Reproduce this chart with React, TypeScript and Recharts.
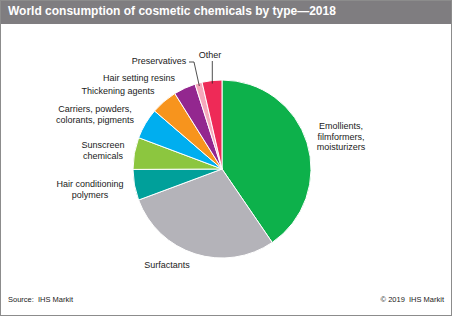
import { PieChart, Pie, Cell } from 'recharts';

// share of world consumption, %, clockwise from 12 o'clock
const categories = [
    'Emollients, filmformers, moisturizers',
    'Surfactants',
    'Hair conditioning polymers',
    'Sunscreen chemicals',
    'Carriers, powders, colorants, pigments',
    'Thickening agents',
    'Hair setting resins',
    'Preservatives',
    'Other',
];
const shares = [40.5, 28.9, 5.6, 5.8, 5.6, 4.8, 4.0, 1.3, 3.6];
const colors = ['#0db14b', '#b4b3b9', '#00a09a', '#8cc63f', '#00aeef', '#f7941d', '#93278f', '#f6a8bb', '#ee2a57'];

// how each label is broken into lines
const labelLines = [
    ['Emollients,', 'filmformers,', 'moisturizers'],
    ['Surfactants'],
    ['Hair conditioning', 'polymers'],
    ['Sunscreen', 'chemicals'],
    ['Carriers, powders,', 'colorants, pigments'],
    ['Thickening agents'],
    ['Hair setting resins'],
    ['Preservatives'],
    ['Other'],
];

// label placement (centre of text block, first line baseline) -- layout only
const labelPos = [
    { x: 341, y: 129 },
    { x: 167, y: 268 },
    { x: 90, y: 187 },
    { x: 103, y: 148 },
    { x: 95, y: 112 },
    { x: 118, y: 94 },
    { x: 139, y: 81 },
    { x: 159, y: 64 },
    { x: 210, y: 58 },
];

const data = categories.map((name, i) => ({ name, value: shares[i] }));

const RAD = Math.PI / 180;

function renderLabel(props: any) {
    const { cx, cy, midAngle, outerRadius, index } = props;
    const pos = labelPos[index];
    const lines = labelLines[index];
    let leader = null;
    if (index === 7 || index === 8) {
        const r = outerRadius - 3;
        const ex = cx + r * Math.cos(-midAngle * RAD);
        const ey = cy + r * Math.sin(-midAngle * RAD);
        const d = index === 7
            ? `M189,62 L194,62 L${ex},${ey}`
            : `M${ex},61 L${ex},${ey}`;
        leader = <path d={d} stroke="#222" strokeWidth={0.8} fill="none" />;
    }
    return (
        <g key={`lbl-${index}`}>
            {leader}
            <text x={pos.x} y={pos.y} textAnchor="middle" fontSize={9} fill="#1a1a1a"
                fontFamily="'Liberation Sans', Arial, sans-serif">
                {lines.map((l, j) => (
                    <tspan key={j} x={pos.x} dy={j === 0 ? 0 : 10.5}>{l}</tspan>
                ))}
            </text>
        </g>
    );
}

export default function App() {
    return (
        <div style={{ position: 'absolute', left: 0, top: 0, width: 452, height: 316, background: '#fff', fontFamily: "'Liberation Sans', Arial, sans-serif" }}>
            <div style={{ position: 'absolute', left: 0, top: 0, width: 452, height: 24, background: '#7f7d80' }} />
            <div style={{ position: 'absolute', left: 8, top: 4, color: '#fff', fontWeight: 'bold', fontSize: 12, whiteSpace: 'nowrap' }}>
                World consumption of cosmetic chemicals by type—2018
            </div>
            <div style={{ position: 'absolute', left: 0, top: 0 }}>
                <PieChart width={452} height={316} margin={{ top: 0, right: 0, bottom: 0, left: 0 }}>
                    <Pie
                        data={data}
                        dataKey="value"
                        nameKey="name"
                        cx={222}
                        cy={169}
                        outerRadius={89}
                        startAngle={90}
                        endAngle={-270}
                        stroke="#fff"
                        strokeWidth={1}
                        label={renderLabel}
                        labelLine={false}
                        isAnimationActive={false}
                    >
                        {data.map((d, i) => (
                            <Cell key={d.name} fill={colors[i]} />
                        ))}
                    </Pie>
                </PieChart>
            </div>
            <div style={{ position: 'absolute', left: 8, top: 295, fontSize: 7.5, color: '#222' }}>Source:&nbsp; IHS Markit</div>
            <div style={{ position: 'absolute', right: 8, top: 295, fontSize: 7.5, color: '#222' }}>© 2019&nbsp; IHS Markit</div>
            <div style={{ position: 'absolute', left: 0, top: 0, width: 452, height: 316, boxSizing: 'border-box', border: '1px solid #8c8c8c', pointerEvents: 'none' }} />
        </div>
    );
}
